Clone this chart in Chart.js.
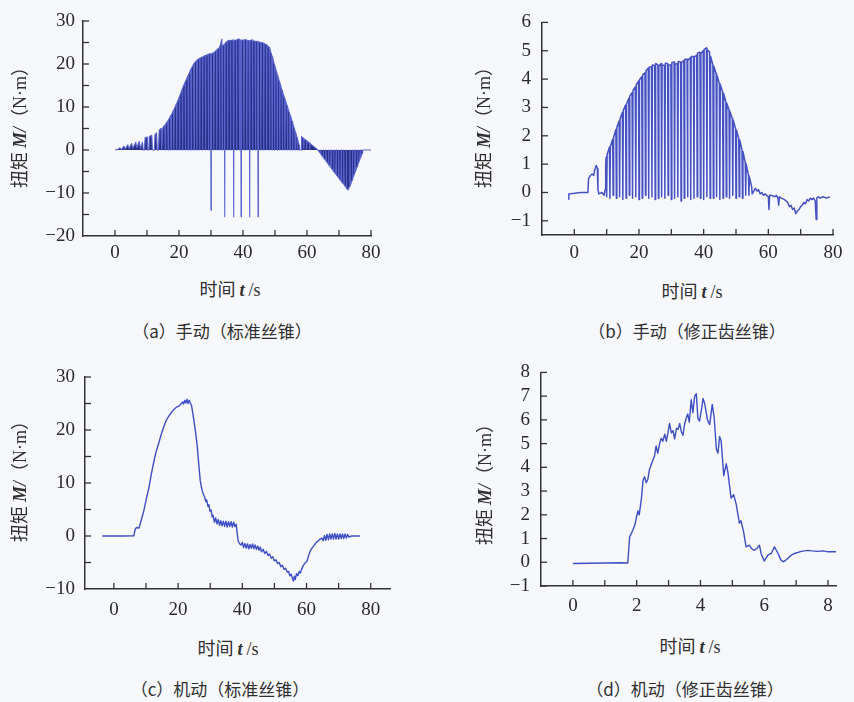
<!DOCTYPE html>
<html lang="zh-CN">
<head>
<meta charset="utf-8">
<title>扭矩-时间曲线</title>
<script src="https://cdn.jsdelivr.net/npm/chart.js@4.4.1/dist/chart.umd.min.js"></script>
<style>
  html, body { margin: 0; padding: 0; background: #f7f8fb; }
  #fig { position: relative; width: 854px; height: 702px; background: #f7f8fb; overflow: hidden;
         color: #2f2f2f; font-family: 'Noto Sans CJK SC', sans-serif; }
  canvas { position: absolute; }
  .lbl { position: absolute; white-space: nowrap; transform: translate(-50%, -50%); font-size: 18px; }
  .ylbl { transform: translate(-50%, -50%) rotate(-90deg); }
  .cap { font-size: 17px; }
  .it { font-family: 'Liberation Serif', serif; font-weight: bold; font-style: italic; }
  .ser { font-family: 'Liberation Serif', serif; }
</style>
</head>
<body>
<div id="fig">
  <canvas id="panelA" width="420" height="275" style="left:0px;top:0px"></canvas>
  <canvas id="panelB" width="424" height="275" style="left:430px;top:0px"></canvas>
  <canvas id="panelC" width="420" height="280" style="left:0px;top:350px"></canvas>
  <canvas id="panelD" width="424" height="280" style="left:430px;top:350px"></canvas>

  <div class="lbl ylbl" style="left:18px;top:123px">扭矩 <span class="it">M/</span>（<span class="ser">N·m</span>）</div>
  <div class="lbl" style="left:230px;top:288px">时间 <span class="it">t</span> <span class="ser">/s</span></div>
  <div class="lbl cap" style="left:222px;top:330px">（a）手动（标准丝锥）</div>

  <div class="lbl ylbl" style="left:482px;top:123px">扭矩 <span class="it">M/</span>（<span class="ser">N·m</span>）</div>
  <div class="lbl" style="left:692px;top:290px">时间 <span class="it">t</span> <span class="ser">/s</span></div>
  <div class="lbl cap" style="left:687px;top:330px">（b）手动（修正齿丝锥）</div>

  <div class="lbl ylbl" style="left:18px;top:477px">扭矩 <span class="it">M/</span>（<span class="ser">N·m</span>）</div>
  <div class="lbl" style="left:228px;top:647px">时间 <span class="it">t</span> <span class="ser">/s</span></div>
  <div class="lbl cap" style="left:220px;top:688px">（c）机动（标准丝锥）</div>

  <div class="lbl ylbl" style="left:483px;top:480px">扭矩 <span class="it">M/</span>（<span class="ser">N·m</span>）</div>
  <div class="lbl" style="left:690px;top:645px">时间 <span class="it">t</span> <span class="ser">/s</span></div>
  <div class="lbl cap" style="left:685px;top:688px">（d）机动（修正齿丝锥）</div>
</div>

<script>
// datos: [t (s), M (N·m)]
// (a) manual, standard tap
const manualStd = [
  [0,0],[0.8,0.1],[1.5,0.5],[2,0.1],[2.8,0.9],[3.2,0.2],[4,1.2],[4.4,0.3],[5.2,1.5],[5.6,0.4],
  [6.5,1.8],[6.8,0.5],[7.6,2.0],[7.9,0.3],[8.6,1.8],[8.8,0],[9.2,0],[9.4,2.8],[10,3.0],[10.2,0],
  [10.6,0],[10.8,3.2],[11.5,3.4],[11.7,0],[12.3,0],[12.5,3.6],[13,4.0],[13.2,0],[13.6,0],[13.8,4.6],
  [14.4,5.0],[14.6,0],[15,5.3],[15.6,5.8],[15.7,0],[15.8,6.0],
  [16.5,6.8],[16.6,0],[16.7,6.9],[17.4,8.0],[17.5,0],[17.6,8.1],[18.3,9.3],[18.4,0],[18.5,9.5],
  [19.2,10.8],[19.3,0],[19.4,11.0],[20.1,12.4],[20.2,0],[20.3,12.6],[21.0,14.2],[21.1,0],[21.2,14.4],
  [21.9,15.8],[22.0,0],[22.1,16.0],[22.8,17.3],[22.9,0],[23.0,17.5],[23.7,18.8],[23.8,0],[23.9,19.0],
  [24.6,20.0],[24.7,0],[24.8,20.2],[25.5,20.8],[25.6,0],[25.7,21.0],[26.4,21.3],[26.5,0],[26.6,21.4],
  [27.3,21.6],[27.4,0],[27.5,21.7],[28.2,22.0],[28.3,0],[28.4,22.0],[29.1,22.2],[29.2,0],[29.3,22.3],
  [29.9,22.4],[30.0,-14],[30.1,22.4],[30.8,22.6],[30.9,0],[31.0,22.7],[31.7,23.2],[31.8,0],[31.9,23.4],
  [32.6,23.8],[32.7,0],[32.8,24.0],[33.4,25.8],[33.5,0],[33.6,24.2],[34.2,24.6],[34.3,-15.5],[34.4,24.8],
  [35.1,25.3],[35.2,0],[35.3,25.4],[36.0,25.5],[36.1,0],[36.2,25.4],[36.9,25.6],[37.1,-15.5],[37.2,25.5],
  [37.9,25.5],[38.0,0],[38.1,25.7],[38.8,25.8],[38.9,0],[39.0,25.6],[39.3,25.5],[39.4,-15.5],[39.5,25.6],
  [40.2,25.5],[40.3,0],[40.4,25.7],[41.1,25.6],[41.2,0],[41.3,25.5],[41.9,25.4],[42.1,-15.5],[42.2,25.5],
  [42.9,25.6],[43.0,0],[43.1,25.4],[43.8,25.3],[43.9,0],[44.0,25.2],[44.6,25.3],[44.7,-15.5],[44.8,25.2],
  [45.5,25.0],[45.6,0],[45.7,25.0],[46.4,24.9],[46.5,0],[46.6,24.8],[47.3,24.5],[47.4,0],[47.5,24.4],
  [48.2,23.8],[48.3,0],[48.4,23.6],[49.0,22.0],[49.1,0],[49.2,21.8],[49.8,19.8],[49.9,0],[50.0,19.5],
  [50.6,17.8],[50.7,0],[50.8,17.5],[51.4,15.8],[51.5,0],[51.6,15.5],[52.2,13.8],[52.3,0],[52.4,13.5],
  [53.0,12.0],[53.1,0],[53.2,11.7],[53.8,10.2],[53.9,0],[54.0,9.9],[54.6,8.4],[54.7,0],[54.8,8.1],
  [55.4,6.5],[55.5,0],[55.6,6.2],[56.2,4.6],[56.3,0],[56.4,4.3],[56.9,2.8],[57.0,0],[57.1,2.5],
  [57.6,1.0],[57.7,0],[58.2,0],[58.3,3.1],[58.9,2.7],[59.0,0.3],[59.1,2.6],[59.8,2.2],[59.9,0.2],
  [60.0,2.1],[60.8,1.6],[60.9,0.1],[61.0,1.5],[61.8,1.0],[62.6,0.5],[63.4,0],
  [64.2,-0.8],[64.3,0],[64.4,-1.0],[65.0,-1.6],[65.1,0],[65.2,-1.8],[65.8,-2.4],[65.9,0],[66.0,-2.6],
  [66.6,-3.2],[66.7,0],[66.8,-3.4],[67.4,-4.0],[67.5,0],[67.6,-4.2],[68.2,-4.8],[68.3,0],[68.4,-5.0],
  [69.0,-5.6],[69.1,0],[69.2,-5.8],[69.8,-6.4],[69.9,0],[70.0,-6.6],[70.6,-7.2],[70.7,0],[70.8,-7.4],
  [71.4,-7.9],[71.5,0],[71.6,-8.1],[72.2,-8.7],[72.3,0],[72.4,-8.9],[72.8,-9.3],
  [73.3,-8.5],[73.4,0],[73.5,-8.3],[74.1,-7.0],[74.2,0],[74.3,-6.7],[74.9,-5.4],[75.0,0],[75.1,-5.1],
  [75.7,-3.8],[75.8,0],[75.9,-3.5],[76.5,-2.2],[76.6,0],[76.7,-1.9],[77.3,-0.7],[77.4,0],[77.8,0],[80,0]
];

// (b) manual, modified-tooth tap
const manualMod = [
  [-1.8,-0.25],[-1.7,-0.05],[0,-0.03],[2,0],[4.2,0],[4.4,0.5],[5,0.6],[5.5,0.65],[6,0.6],[6.3,0.8],
  [6.8,0.95],[7.1,0.85],[7.3,0.1],[7.6,-0.05],[8.5,0],[9.2,-0.1],[9.5,0.1],[9.7,1.0],
  [9.85,1.25],[10,-0.15],[10.15,1.35],[10.85,1.6],[11,-0.2],[11.15,1.62],[11.85,1.88],[12,-0.1],[12.15,1.95],
  [12.85,2.22],[13,-0.2],[13.15,2.3],[13.85,2.52],[14,-0.15],[14.15,2.6],[14.85,2.82],[15,-0.25],[15.15,2.9],
  [15.85,3.08],[16,-0.2],[16.15,3.12],[16.85,3.32],[17,-0.1],[17.15,3.4],[17.85,3.52],[18,-0.2],[18.15,3.6],
  [18.85,3.72],[19,-0.15],[19.15,3.8],[19.85,3.93],[20,-0.25],[20.15,3.98],[20.85,4.08],[21,-0.2],[21.15,4.15],
  [21.85,4.22],[22,-0.1],[22.15,4.3],[22.85,4.38],[23,-0.2],[23.15,4.42],[23.85,4.44],[24,-0.15],[24.15,4.5],
  [24.85,4.48],[25,-0.25],[25.15,4.55],[25.85,4.5],[26,-0.2],[26.15,4.45],[26.85,4.55],[27,-0.15],[27.15,4.5],
  [27.85,4.48],[28,-0.2],[28.15,4.56],[28.85,4.55],[29,-0.1],[29.15,4.5],[29.85,4.5],[30,-0.25],[30.15,4.58],
  [30.85,4.6],[31,-0.2],[31.15,4.52],[31.85,4.55],[32,-0.15],[32.15,4.62],[32.85,4.6],[33,-0.3],[33.15,4.58],
  [33.85,4.65],[34,-0.2],[34.15,4.7],[34.85,4.7],[35,-0.15],[35.15,4.66],[35.85,4.75],[36,-0.25],[36.15,4.8],
  [36.85,4.8],[37,-0.2],[37.15,4.78],[37.85,4.85],[38,-0.15],[38.15,4.92],[38.85,4.95],[39,-0.2],[39.15,4.9],
  [39.85,5.0],[40,-0.25],[40.15,5.05],[40.85,5.1],[41,-0.15],[41.15,5.02],[41.85,4.95],[42,-0.2],[42.15,4.8],
  [42.85,4.5],[43,-0.2],[43.15,4.45],[43.85,4.2],[44,-0.15],[44.15,4.12],[44.85,3.85],[45,-0.25],[45.15,3.8],
  [45.85,3.55],[46,-0.2],[46.15,3.5],[46.85,3.2],[47,-0.15],[47.15,3.15],[47.85,2.9],[48,-0.2],[48.15,2.85],
  [48.85,2.6],[49,-0.1],[49.15,2.55],[49.85,2.25],[50,-0.2],[50.15,2.2],[50.85,1.9],[51,-0.15],[51.15,1.85],
  [51.85,1.5],[52,-0.2],[52.15,1.45],[52.85,1.05],[53,-0.1],[53.15,1.0],[53.85,0.6],[54,-0.1],[54.15,0.55],
  [54.85,0.2],[55,-0.05],[55.5,0.05],[56,0.15],[56.5,0.05],[57,0.1],[57.5,-0.05],[58,0],[58.5,-0.1],
  [59,-0.05],[59.5,-0.1],[60,-0.15],[60.2,-0.6],[60.4,-0.1],[61,-0.1],[62,-0.15],[62.5,-0.1],[63,-0.2],
  [63.2,-0.45],[63.4,-0.15],[64,-0.2],[65,-0.25],[65.5,-0.3],[66,-0.35],[66.5,-0.5],[67,-0.45],[67.5,-0.6],
  [68,-0.55],[68.5,-0.75],[69,-0.65],[69.5,-0.6],[70,-0.5],[70.5,-0.45],[71,-0.35],[71.5,-0.4],[72,-0.25],
  [72.5,-0.3],[73,-0.2],[73.5,-0.25],[74,-0.2],[74.5,-0.3],[74.8,-0.95],[75,-0.2],[75.5,-0.15],[76,-0.2],
  [77,-0.15],[78,-0.2],[79,-0.15]
];

// (c) machine, standard tap
const machineStd = [
  [-3.6,0],[0,0],[3,0],[6.2,0.05],[6.6,1.2],[7,1.6],[7.8,1.5],[8.3,2.5],[9.3,4.7],[10.1,7.0],[10.9,9.1],
  [11.7,11.8],[12.5,14.2],[13.2,16.0],[14.0,17.6],[14.8,19.3],[15.6,20.7],[16.3,21.8],[17.1,22.6],[17.9,23.3],
  [18.7,23.9],[19.5,24.3],[20.2,24.5],[20.9,24.9],[21.4,25.3],[21.7,24.9],[22.1,25.6],[22.4,25.1],[22.8,25.8],
  [23.1,25.0],[23.5,25.6],[23.8,25.1],[24.2,24.6],[24.8,22.3],[25.4,19.8],[25.9,17.3],[26.4,13.8],[26.9,10.4],
  [27.4,8.8],[27.9,7.8],[28.3,7.3],[28.6,6.5],[28.9,6.8],[29.3,5.6],[29.6,5.9],[29.9,4.7],[30.3,4.9],[30.6,3.6],
  [30.9,3.9],[31.3,2.6],[31.7,3.4],[32.1,2.3],[32.5,3.1],[32.9,2.0],[33.3,2.9],[33.7,1.9],[34.1,2.8],[34.5,1.8],
  [34.9,2.8],[35.3,1.7],[35.7,2.7],[36.1,1.8],[36.5,2.7],[36.9,1.7],[37.3,2.6],[37.7,1.8],[38.1,2.2],[38.4,0.5],
  [38.7,-0.9],[39.2,-1.5],[39.6,-1.7],[40.0,-1.2],[40.4,-2.2],[40.8,-1.4],[41.2,-2.3],[41.6,-1.5],[42.0,-2.4],
  [42.4,-1.6],[42.8,-2.3],[43.2,-1.5],[43.6,-2.4],[44.0,-1.7],[44.4,-2.5],[44.8,-1.9],[45.2,-2.7],[45.6,-2.1],
  [46.0,-3.0],[46.5,-2.5],[47.0,-3.3],[47.5,-2.9],[48.0,-3.7],[48.5,-3.4],[49.0,-4.2],[49.5,-3.9],[50.0,-4.7],
  [50.5,-4.5],[51.0,-5.2],[51.5,-5.0],[52.0,-5.8],[52.5,-5.5],[53.0,-6.3],[53.5,-6.1],[54.0,-6.8],[54.4,-6.7],
  [54.8,-7.5],[55.2,-7.2],[55.6,-8.0],[55.9,-8.5],[56.2,-7.6],[56.5,-8.2],[56.9,-7.1],[57.3,-7.5],[57.7,-6.7],
  [58.1,-7.0],[58.5,-6.2],[59.0,-5.6],[59.5,-5.1],[60.1,-4.8],[60.6,-3.8],[61.1,-2.9],[61.7,-2.3],[62.3,-1.8],
  [62.9,-1.3],[63.5,-1.0],[64.2,-0.6],[64.8,-0.4],[65.2,-0.9],[65.6,0.1],[66.0,-0.8],[66.4,0.3],[66.8,-0.7],
  [67.2,0.4],[67.6,-0.6],[68.0,0.4],[68.4,-0.6],[68.8,0.5],[69.2,-0.6],[69.6,0.4],[70.0,-0.6],[70.4,0.4],
  [70.8,-0.5],[71.2,0.4],[71.6,-0.5],[72.0,0.4],[72.4,-0.4],[72.8,0.3],[73.2,-0.2],[74,0],[76.6,0]
];

// (d) machine, modified-tooth tap
const machineMod = [
  [0,-0.05],[0.5,-0.04],[1,-0.03],[1.5,-0.02],[1.72,-0.03],[1.78,1.07],[1.88,1.35],[1.95,1.6],[1.99,1.89],
  [2.04,2.16],[2.08,2.0],[2.15,2.7],[2.2,3.45],[2.25,3.6],[2.3,3.35],[2.35,3.5],[2.4,3.9],[2.48,4.2],[2.56,4.48],
  [2.61,4.9],[2.66,4.6],[2.72,5.0],[2.77,5.23],[2.82,5.1],[2.88,5.4],[2.93,5.1],[2.98,5.45],[3.03,5.85],
  [3.09,5.45],[3.14,5.55],[3.19,5.2],[3.25,5.65],[3.3,5.6],[3.35,5.85],[3.4,5.5],[3.45,5.35],[3.5,5.8],
  [3.56,6.1],[3.6,6.25],[3.65,5.9],[3.71,6.85],[3.76,6.3],[3.82,7.0],[3.87,7.1],[3.92,6.05],[3.97,5.95],
  [4.04,6.5],[4.08,6.9],[4.13,6.7],[4.22,6.0],[4.29,5.8],[4.37,6.65],[4.43,6.1],[4.5,4.75],[4.55,4.6],
  [4.6,5.3],[4.65,5.1],[4.73,3.65],[4.81,4.15],[4.86,3.8],[4.96,2.7],[5.04,2.85],[5.12,2.45],[5.22,1.65],
  [5.27,1.75],[5.35,1.3],[5.43,0.65],[5.53,0.72],[5.62,0.55],[5.69,0.5],[5.78,0.6],[5.85,0.72],[5.9,0.37],
  [6.0,0.05],[6.11,0.3],[6.22,0.37],[6.32,0.65],[6.43,0.38],[6.52,0.1],[6.59,0.02],[6.67,0.08],[6.74,0.17],
  [6.85,0.3],[6.95,0.37],[7.16,0.46],[7.37,0.5],[7.5,0.48],[7.68,0.46],[7.85,0.48],[8.0,0.44],[8.15,0.45],[8.25,0.44]
];

// etiquetas y marcas de los ejes
const labelsX80 = [0, 20, 40, 60, 80];
const minorX80 = [0, 10, 20, 30, 40, 50, 60, 70, 80];
const labelsX8 = [0, 2, 4, 6, 8];
const minorX8 = [0, 1, 2, 3, 4, 5, 6, 7, 8];
const labelsYA = [-20, -10, 0, 10, 20, 30];
const minorYA = [-15, -10, -5, 0, 5, 10, 15, 20, 25, 30];
const labelsYB = [-1, 0, 1, 2, 3, 4, 5, 6];
const labelsYC = [-10, 0, 10, 20, 30];
const minorYC = [-5, 0, 5, 10, 15, 20, 25, 30];
const labelsYD = [-1, 0, 1, 2, 3, 4, 5, 6, 7, 8];

const axisColor = '#333333';
const tickFont = { family: "'Liberation Serif', 'DejaVu Serif', serif", size: 19 };

function fmt(v) { // signo menos tipografico
    return v < 0 ? '\u2212' + (-v) : String(v);
}

const innerTicks = { // marcas hacia dentro del area
    id: 'innerTicks',
    afterDraw(chart, args, opts) {
        const ctx = chart.ctx;
        const area = chart.chartArea;
        ctx.save();
        ctx.strokeStyle = axisColor;
        ctx.lineWidth = 1.3;
        opts.x.forEach(v => {
            const px = chart.scales.x.getPixelForValue(v);
            ctx.beginPath(); ctx.moveTo(px, area.bottom); ctx.lineTo(px, area.bottom - 6); ctx.stroke();
        });
        opts.y.forEach(v => {
            const py = chart.scales.y.getPixelForValue(v);
            ctx.beginPath(); ctx.moveTo(area.left, py); ctx.lineTo(area.left + 6, py); ctx.stroke();
        });
        ctx.restore();
    }
};

function panel(id, points, o) {
    return new Chart(document.getElementById(id), {
        type: 'line',
        data: {
            datasets: [{
                data: points.map(p => ({ x: p[0], y: p[1] })),
                borderColor: o.color,
                borderWidth: o.lw,
                backgroundColor: o.fillColor || 'transparent',
                fill: o.fillColor ? 'origin' : false,
                pointRadius: 0,
                tension: 0,
                borderJoinStyle: 'round'
            }]
        },
        options: {
            responsive: false,
            animation: false,
            devicePixelRatio: 1,
            events: [],
            layout: { padding: { top: o.pad[0], right: o.pad[1], bottom: 0, left: 0 } },
            plugins: {
                legend: { display: false },
                tooltip: { enabled: false },
                innerTicks: { x: o.minorX, y: o.minorY }
            },
            scales: {
                x: {
                    type: 'linear', min: o.x[0], max: o.x[1],
                    grid: { display: false, drawTicks: false },
                    border: { display: true, color: axisColor, width: 1.5 },
                    ticks: { padding: o.tp[0], color: '#2a2a2a', font: tickFont, maxRotation: 0, autoSkip: false, callback: fmt },
                    afterBuildTicks: s => { s.ticks = o.labelsX.map(v => ({ value: v })); },
                    afterFit: s => { s.height = o.xH; }
                },
                y: {
                    type: 'linear', min: o.y[0], max: o.y[1],
                    grid: { display: false, drawTicks: false },
                    border: { display: true, color: axisColor, width: 1.5 },
                    ticks: { padding: o.tp[1], color: '#2a2a2a', font: tickFont, autoSkip: false, callback: fmt },
                    afterBuildTicks: s => { s.ticks = o.labelsY.map(v => ({ value: v })); },
                    afterFit: s => { s.width = o.yW; }
                }
            }
        },
        plugins: [innerTicks]
    });
}

panel('panelA', manualStd, {
    x: [-10, 80], y: [-20, 30], labelsX: labelsX80, labelsY: labelsYA, minorX: minorX80, minorY: minorYA,
    pad: [21, 49], yW: 83, xH: 39, tp: [6, 8], color: '#5863cf', lw: 1.1, fillColor: '#283085'
});
panel('panelB', manualMod, {
    x: [-10, 80], y: [-1.5, 6], labelsX: labelsX80, labelsY: labelsYB, minorX: minorX80, minorY: labelsYB,
    pad: [17, 21], yW: 112, xH: 40, tp: [7, 11], color: '#4652c4', lw: 1.5
});
panel('panelC', machineStd, {
    x: [-9, 86], y: [-10, 30], labelsX: labelsX80, labelsY: labelsYC, minorX: minorX80, minorY: minorYC,
    pad: [27, 30], yW: 85, xH: 41, tp: [10, 10], color: '#3e4fc4', lw: 1.4
});
panel('panelD', machineMod, {
    x: [-1, 8.25], y: [-1, 8], labelsX: labelsX8, labelsY: labelsYD, minorX: minorX8, minorY: labelsYD,
    pad: [16, 18], yW: 111, xH: 44, tp: [9, 11], color: '#3e4fc4', lw: 1.4
});
</script>
</body>
</html>
